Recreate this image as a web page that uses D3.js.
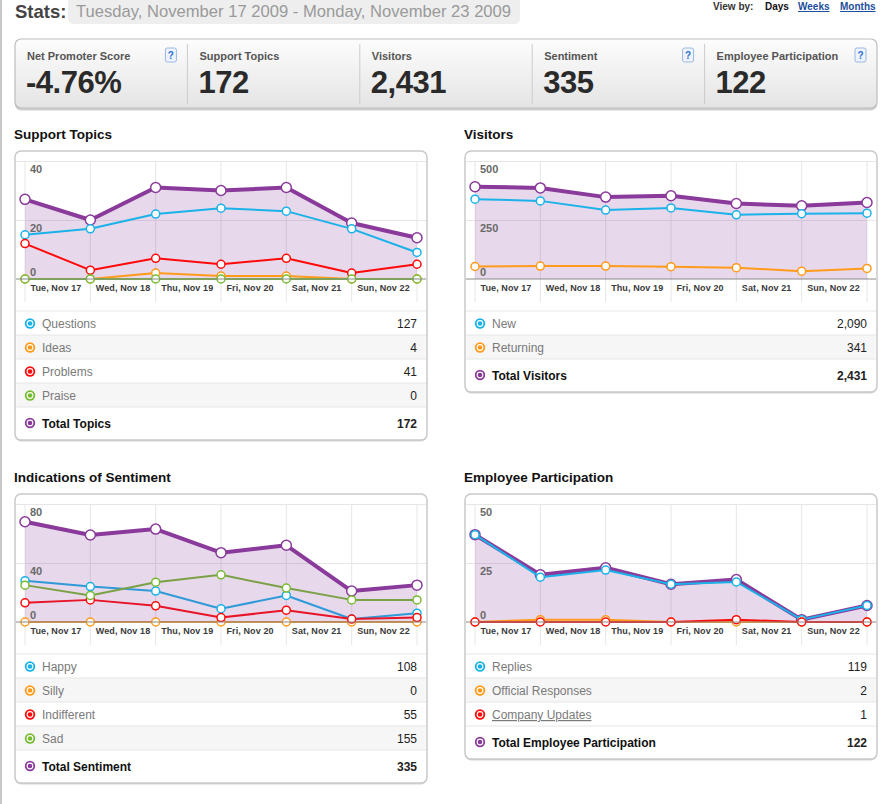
<!DOCTYPE html>
<html>
<head>
<meta charset="utf-8">
<script src="https://cdn.jsdelivr.net/npm/d3@7"></script>
<style>
  body { margin: 0; background: #fff; font-family: "Liberation Sans", Arial, sans-serif; }
  svg text { font-family: "Liberation Sans", Arial, sans-serif; }
</style>
</head>
<body>
<svg id="page" width="885" height="804"></svg>
<script>
// days shown on every chart
var days = ["Tue, Nov 17", "Wed, Nov 18", "Thu, Nov 19", "Fri, Nov 20", "Sat, Nov 21", "Sun, Nov 22", "Mon, Nov 23"];
var dateRange = "Tuesday, November 17 2009 - Monday, November 23 2009";

// support topics
var questions = [15, 17, 22, 24, 23, 17, 9];
var ideas = [0, 0, 2, 1, 1, 0, 0];
var problems = [12, 3, 7, 5, 7, 2, 5];
var praise = [0, 0, 0, 0, 0, 0, 0];
var totalTopics = [27, 20, 31, 30, 31, 19, 14];
var topicTicks = [0, 20, 40];

// visitors
var newVisitors = [338, 331, 292, 301, 272, 277, 279];
var returningVisitors = [53, 55, 55, 52, 48, 33, 45];
var totalVisitors = [391, 386, 347, 353, 320, 310, 324];
var visitorTicks = [0, 250, 500];

// sentiment
var happy = [28, 24, 21, 9, 18, 2, 6];
var silly = [0, 0, 0, 0, 0, 0, 0];
var indifferent = [13, 15, 11, 3, 8, 2, 3];
var sad = [25, 18, 27, 32, 23, 15, 15];
var totalSentiment = [68, 59, 63, 47, 52, 21, 25];
var sentimentTicks = [0, 40, 80];

// employee participation
var replies = [37, 19, 22, 16, 17, 1, 7];
var officialResponses = [0, 1, 1, 0, 0, 0, 0];
var companyUpdates = [0, 0, 0, 0, 1, 0, 0];
var totalEmployee = [37, 20, 23, 16, 18, 1, 7];
var employeeTicks = [0, 25, 50];

var netPromoterScore = -4.76;

var blue = "#1ab2e8", orange = "#ff9a1a", red = "#ff0a0a", green = "#77bb33", purple = "#8a3a9a";
var fmt = d3.format(",");
var sum = function(a){ return d3.sum(a); };

var svg = d3.select("#page");
var defs = svg.append("defs");
var grad = defs.append("linearGradient").attr("id", "statsGrad")
  .attr("x1", 0).attr("y1", 0).attr("x2", 0).attr("y2", 1);
grad.append("stop").attr("offset", "0%").attr("stop-color", "#fdfdfd");
grad.append("stop").attr("offset", "100%").attr("stop-color", "#e4e4e4");

// page edge
svg.append("rect").attr("x", 0).attr("y", 0).attr("width", 2).attr("height", 804).attr("fill", "#c8c8c8");

// header
svg.append("text").attr("x", 15).attr("y", 18).text("Stats:")
  .attr("font-size", 18.5).attr("font-weight", "bold").attr("fill", "#444");
svg.append("rect").attr("x", 68).attr("y", -6).attr("width", 452).attr("height", 30).attr("rx", 5)
  .attr("fill", "#eeeeee");
svg.append("text").attr("x", 76).attr("y", 17).text(dateRange)
  .attr("font-size", 16.6).attr("fill", "#9a9a9a");

var viewBy = [["View by:", 713, "#333", false], ["Days", 765, "#111", false],
              ["Weeks", 798, "#1d4f9c", true], ["Months", 840, "#1d4f9c", true]];
svg.selectAll(".viewby").data(viewBy).enter().append("text")
  .attr("class", "viewby")
  .attr("x", function(d){ return d[1]; })
  .attr("y", 10)
  .text(function(d){ return d[0]; })
  .attr("font-size", 10).attr("font-weight", "bold")
  .attr("fill", function(d){ return d[2]; })
  .attr("text-decoration", function(d){ return d[3] ? "underline" : null; });

// stats strip
var statLabels = ["Net Promoter Score", "Support Topics", "Visitors", "Sentiment", "Employee Participation"];
var statValues = [netPromoterScore.toFixed(2) + "%", fmt(sum(totalTopics)), fmt(sum(totalVisitors)),
                  fmt(sum(totalSentiment)), fmt(sum(totalEmployee))];
var statHelp = [true, false, false, true, true];
var cellW = 172.4;

svg.append("rect").attr("x", 15).attr("y", 40.5).attr("width", 862).attr("height", 70).attr("rx", 6)
  .attr("fill", "#cfcfcf");
svg.append("rect").attr("x", 15).attr("y", 39).attr("width", 862).attr("height", 69).attr("rx", 6)
  .attr("fill", "url(#statsGrad)").attr("stroke", "#bdbdbd").attr("stroke-width", 1.2);

var cells = svg.selectAll(".cell").data(statLabels).enter().append("g")
  .attr("class", "cell")
  .attr("transform", function(d, i){ return "translate(" + (15 + i * cellW) + ",0)"; });
cells.filter(function(d, i){ return i > 0; }).append("line")
  .attr("x1", 0).attr("x2", 0).attr("y1", 44).attr("y2", 104)
  .attr("stroke", "#cccccc");
cells.append("text").attr("x", 12).attr("y", 60).text(function(d){ return d; })
  .attr("font-size", 11).attr("font-weight", "bold").attr("fill", "#555");
cells.append("text").attr("x", 11).attr("y", 93).text(function(d, i){ return statValues[i]; })
  .attr("font-size", 31).attr("font-weight", "bold").attr("fill", "#2a2a2a")
  .attr("letter-spacing", -0.5);
var help = cells.filter(function(d, i){ return statHelp[i]; });
help.append("rect").attr("x", cellW - 22).attr("y", 48).attr("width", 11).attr("height", 14).attr("rx", 2)
  .attr("fill", "#eef4ff").attr("stroke", "#9bb8e0");
help.append("text").attr("x", cellW - 16.5).attr("y", 59).attr("text-anchor", "middle").text("?")
  .attr("font-size", 10).attr("font-weight", "bold").attr("fill", "#2f6fd0");

// one chart + legend panel
function drawPanel(p) {
  var L = p.x, T = p.y, W = 412;
  var n = p.series.length;
  var H = 160 + 24 * n + 33;
  var g = svg.append("g");

  g.append("text").attr("x", L - 1).attr("y", T - 12).text(p.title)
    .attr("font-size", 13.5).attr("font-weight", "bold").attr("fill", "#111");

  g.append("rect").attr("x", L).attr("y", T + 1.5).attr("width", W).attr("height", H).attr("rx", 6)
    .attr("fill", "#d6d6d6");
  g.append("rect").attr("x", L).attr("y", T).attr("width", W).attr("height", H).attr("rx", 6)
    .attr("fill", "#fff").attr("stroke", "#c9c9c9").attr("stroke-width", 1.5);

  var x = d3.scalePoint().domain(days).range([L + 10, L + W - 10]);
  var y = d3.scaleLinear().domain([0, p.ticks[p.ticks.length - 1]]).range([T + 128, T + 10]);

  g.selectAll(".vgrid").data(days).enter().append("line")
    .attr("x1", function(d){ return x(d); }).attr("x2", function(d){ return x(d); })
    .attr("y1", y.range()[1]).attr("y2", T + 151)
    .attr("stroke", "#e6e6e6");

  var grid = g.append("g").attr("transform", "translate(" + (L + 1) + ",0)")
    .call(d3.axisRight(y).tickValues(p.ticks.filter(function(t){ return t > 0; }))
      .tickSize(W - 2).tickFormat(""));
  grid.select(".domain").remove();
  grid.selectAll("line").attr("stroke", "#e6e6e6");

  var area = d3.area()
    .x(function(d, i){ return x(days[i]); })
    .y0(y(0))
    .y1(function(d){ return y(d); });
  var line = d3.line()
    .x(function(d, i){ return x(days[i]); })
    .y(function(d){ return y(d); });

  function drawFill() {
    g.append("path").datum(p.total).attr("d", area)
      .attr("fill", purple).attr("fill-opacity", 0.2);
  }
  function drawLine(s, w) {
    g.append("path").datum(s.values).attr("d", line)
      .attr("fill", "none").attr("stroke", s.color).attr("stroke-width", w)
      .attr("stroke-linejoin", "round");
  }
  function drawDots(s, r) {
    g.selectAll(null).data(s.values).enter().append("circle")
      .attr("cx", function(d, i){ return x(days[i]); })
      .attr("cy", function(d){ return y(d); })
      .attr("r", r)
      .attr("fill", "#fff").attr("stroke", s.color).attr("stroke-width", 1.5);
  }

  var totalSeries = { values: p.total, color: purple };
  if (p.fillOnTop) {
    p.series.forEach(function(s){ drawLine(s, 2); });
    drawFill();
    drawLine(totalSeries, 4);
    drawDots(totalSeries, 5);
    p.series.forEach(function(s){ drawDots(s, 4); });
  } else {
    drawFill();
    drawLine(totalSeries, 4);
    drawDots(totalSeries, 5);
    p.series.forEach(function(s){ drawLine(s, 2); drawDots(s, 4); });
  }

  // zero axis across the box
  g.append("line").attr("x1", L + 1).attr("x2", L + W - 1)
    .attr("y1", y(0)).attr("y2", y(0)).attr("stroke", "#8a8a8a");

  // value labels
  g.selectAll(".ylab").data(p.ticks).enter().append("text")
    .attr("x", L + 15)
    .attr("y", function(t){ return t === 0 ? y(t) - 3 : y(t) + 12; })
    .text(function(t){ return t; })
    .attr("font-size", 11).attr("font-weight", "bold").attr("fill", "#6a6a6a");

  // day labels
  var xa = g.append("g").attr("transform", "translate(0," + y(0) + ")")
    .call(d3.axisBottom(x).tickSize(0)
      .tickFormat(function(d, i){ return i < days.length - 1 ? d : ""; }));
  xa.select(".domain").remove();
  xa.selectAll("text")
    .attr("text-anchor", "start").attr("x", 5).attr("y", 12).attr("dy", 0)
    .attr("font-size", 9).attr("font-weight", "bold").attr("fill", "#3a3a3a")
    .attr("letter-spacing", 0.1)
    .attr("font-family", "Liberation Sans, Arial, sans-serif");

  // legend table
  var top = T + 160;
  var rows = p.series.concat([{ label: p.totalLabel, values: p.total, color: purple, isTotal: true }]);
  var rg = g.selectAll(".row").data(rows).enter().append("g")
    .attr("transform", function(d, i){ return "translate(" + L + "," + (top + 24 * i) + ")"; });
  rg.filter(function(d, i){ return i % 2 === 1 && !d.isTotal; }).append("rect")
    .attr("x", 1.5).attr("y", 0).attr("width", W - 3).attr("height", 24).attr("fill", "#f6f6f6");
  rg.append("line").attr("x1", 1).attr("x2", W - 1).attr("y1", 0).attr("y2", 0).attr("stroke", "#e6e6e6");
  var cy = function(d){ return d.isTotal ? 16 : 12.5; };
  rg.append("circle").attr("cx", 15).attr("cy", cy).attr("r", 5.2).attr("fill", function(d){ return d.color; });
  rg.append("circle").attr("cx", 15).attr("cy", cy).attr("r", 3.4).attr("fill", "#fff");
  rg.append("circle").attr("cx", 15).attr("cy", cy).attr("r", 2.3).attr("fill", function(d){ return d.color; });
  rg.append("text").attr("x", 27).attr("y", function(d){ return d.isTotal ? 21 : 17; })
    .text(function(d){ return d.label; })
    .attr("font-size", 12)
    .attr("font-weight", function(d){ return d.isTotal ? "bold" : "normal"; })
    .attr("fill", function(d){ return d.isTotal ? "#111" : "#7a7a7a"; })
    .attr("text-decoration", function(d){ return d.underline ? "underline" : null; });
  rg.append("text").attr("x", W - 10).attr("y", function(d){ return d.isTotal ? 21 : 17; })
    .attr("text-anchor", "end")
    .text(function(d){ return fmt(sum(d.values)); })
    .attr("font-size", 12)
    .attr("font-weight", function(d){ return d.isTotal ? "bold" : "normal"; })
    .attr("fill", "#222");
}

drawPanel({
  title: "Support Topics", x: 15, y: 151, ticks: topicTicks,
  total: totalTopics, totalLabel: "Total Topics",
  series: [
    { label: "Questions", values: questions, color: blue },
    { label: "Ideas", values: ideas, color: orange },
    { label: "Problems", values: problems, color: red },
    { label: "Praise", values: praise, color: green }
  ]
});
drawPanel({
  title: "Visitors", x: 465, y: 151, ticks: visitorTicks,
  total: totalVisitors, totalLabel: "Total Visitors",
  series: [
    { label: "New", values: newVisitors, color: blue },
    { label: "Returning", values: returningVisitors, color: orange }
  ]
});
drawPanel({
  title: "Indications of Sentiment", x: 15, y: 494, ticks: sentimentTicks,
  total: totalSentiment, totalLabel: "Total Sentiment", fillOnTop: true,
  series: [
    { label: "Happy", values: happy, color: blue },
    { label: "Silly", values: silly, color: orange },
    { label: "Indifferent", values: indifferent, color: red },
    { label: "Sad", values: sad, color: green }
  ]
});
drawPanel({
  title: "Employee Participation", x: 465, y: 494, ticks: employeeTicks,
  total: totalEmployee, totalLabel: "Total Employee Participation",
  series: [
    { label: "Replies", values: replies, color: blue },
    { label: "Official Responses", values: officialResponses, color: orange },
    { label: "Company Updates", values: companyUpdates, color: red, underline: true }
  ]
});
</script>
</body>
</html>
